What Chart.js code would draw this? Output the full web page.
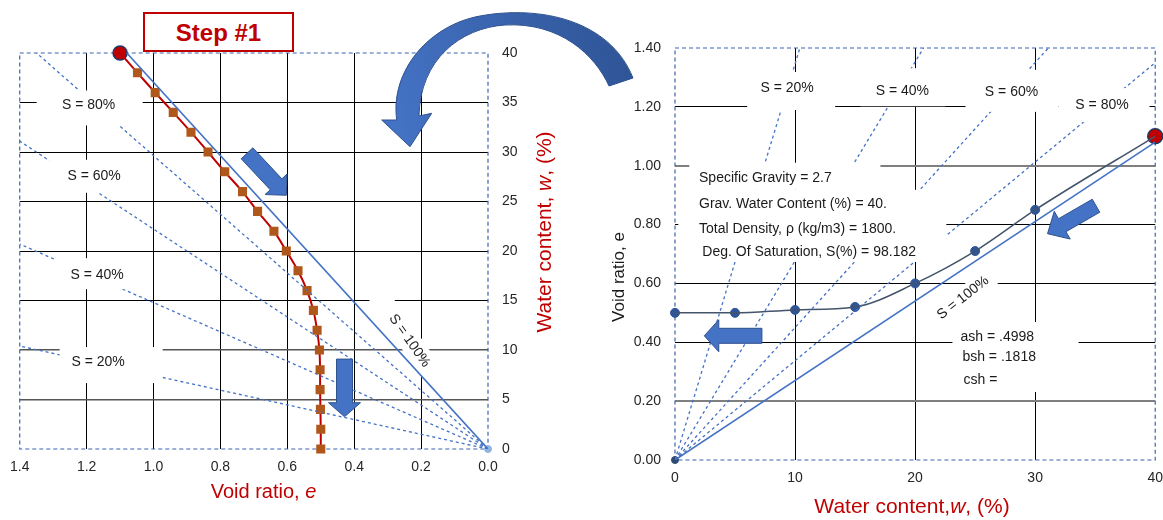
<!doctype html>
<html lang="en">
<head>
<meta charset="utf-8">
<title>Void ratio vs water content</title>
<script src="https://cdn.jsdelivr.net/npm/chart.js@4.4.0/dist/chart.umd.min.js"></script>
<style>
  body { margin: 0; background: #fff; }
  #wrap { position: relative; width: 1163px; height: 520px; overflow: hidden; }
  #left { position: absolute; left: 0; top: 0; }
  #right { position: absolute; left: 590px; top: 0; }
  #step {
    position: absolute; left: 143px; top: 12px; width: 147px; height: 36px;
    border: 2.5px solid #c00000; background: #fff; color: #c00000;
    font: bold 24px "Liberation Sans", Arial, sans-serif; text-align: center; line-height: 37px;
  }
  #curl { position: absolute; left: 0; top: 0; pointer-events: none; }
</style>
</head>
<body>
<div id="wrap">
  <canvas id="left" width="590" height="520"></canvas>
  <canvas id="right" width="583" height="520"></canvas>
  <div id="step">Step #1</div>
  <svg id="curl" width="1163" height="520">
    <defs>
      <linearGradient id="g" gradientUnits="userSpaceOnUse" x1="633" y1="78" x2="400" y2="130">
        <stop offset="0" stop-color="#2f5597"/>
        <stop offset="1" stop-color="#4472c4"/>
      </linearGradient>
    </defs>
    <path d="M396.7 120 C390 70 430 25 480 16 C540 5 610 20 633 78 L609 86 C595 55 560 22 505 25 C460 28 420 60 419 116 L431.7 113.3 L410 146.7 L381.7 120 Z"
          fill="url(#g)" stroke="#2f528f" stroke-width="1"/>
  </svg>
</div>

<script>
const FONT = '"Liberation Sans", Arial, sans-serif';

// ---- left chart: void ratio (x, reversed) against water content (y) ----
const leftWater = [40, 38, 36, 34, 32, 30, 28, 26, 24, 22, 20, 18, 16, 14, 12, 10, 8, 6, 4, 2, 0];
const leftVoid  = [1.10, 1.048, 0.995, 0.941, 0.888, 0.837, 0.787, 0.734, 0.689, 0.640, 0.603,
                   0.568, 0.541, 0.522, 0.511, 0.504, 0.502, 0.502, 0.501, 0.500, 0.500];

// saturation lines, all starting at the origin; end points
const satNames = ['S = 20%', 'S = 40%', 'S = 60%', 'S = 80%', 'S = 100%'];
const satEndVoid  = [1.40, 1.40, 1.40, 1.35, 1.08];
const satEndWater = [10.4, 20.7, 31.1, 40, 40];

// ---- right chart: water content (x) against void ratio (y) ----
const rightWater = [0, 5, 10, 15, 20, 25, 30];
const rightVoid  = [0.50, 0.50, 0.51, 0.52, 0.60, 0.71, 0.85];
const startWater = 40;
const startVoid  = 1.10;

const soilProps = ['Specific Gravity = 2.7', 'Grav. Water Content (%) = 40.',
                   'Total Density, \u03c1 (kg/m3) = 1800.', 'Deg. Of Saturation, S(%) = 98.182'];
const fitParams = ['ash = .4998', 'bsh = .1818', 'csh ='];

const BLUE = '#4472c4';

function near(a, b) { return Math.abs(a - b) < 1e-6; }

function px(chart, x, y) {
  return [chart.scales.x.getPixelForValue(x), chart.scales.y.getPixelForValue(y)];
}

function blockArrow(ctx, a, b, sw, hw, hl) {
  const dx = b[0] - a[0], dy = b[1] - a[1], L = Math.hypot(dx, dy);
  const ux = dx / L, uy = dy / L, nx = -uy, ny = ux;
  const bx = b[0] - ux * hl, by = b[1] - uy * hl;
  ctx.beginPath();
  ctx.moveTo(a[0] + nx * sw / 2, a[1] + ny * sw / 2);
  ctx.lineTo(bx + nx * sw / 2, by + ny * sw / 2);
  ctx.lineTo(bx + nx * hw / 2, by + ny * hw / 2);
  ctx.lineTo(b[0], b[1]);
  ctx.lineTo(bx - nx * hw / 2, by - ny * hw / 2);
  ctx.lineTo(bx - nx * sw / 2, by - ny * sw / 2);
  ctx.lineTo(a[0] - nx * sw / 2, a[1] - ny * sw / 2);
  ctx.closePath();
  ctx.fillStyle = BLUE;
  ctx.fill();
  ctx.strokeStyle = '#2f528f';
  ctx.lineWidth = 1;
  ctx.stroke();
}

function richText(ctx, parts, cx, cy, size, color, rot) {
  ctx.save();
  ctx.translate(cx, cy);
  ctx.rotate(rot * Math.PI / 180);
  ctx.fillStyle = color;
  ctx.textBaseline = 'middle';
  ctx.textAlign = 'left';
  let total = 0;
  parts.forEach(p => {
    ctx.font = (p.i ? 'italic ' : '') + size + 'px ' + FONT;
    p.w = ctx.measureText(p.t).width;
    total += p.w;
  });
  let x = -total / 2;
  parts.forEach(p => {
    ctx.font = (p.i ? 'italic ' : '') + size + 'px ' + FONT;
    ctx.fillText(p.t, x, 0);
    x += p.w;
  });
  ctx.restore();
}

function labelBox(chart, l) {
  const [x, y] = px(chart, l.x, l.y);
  const [dx, dy, w, h] = l.box;
  const ctx = chart.ctx;
  ctx.save();
  ctx.translate(x, y);
  ctx.rotate((l.rot || 0) * Math.PI / 180);
  ctx.fillStyle = '#fff';
  ctx.fillRect(dx - w / 2, dy - h / 2, w, h);
  ctx.restore();
}

// dashed plot frame, white label boxes, labels, arrows, axis titles
const decor = {
  id: 'decor',
  beforeDatasetsDraw(chart, args, o) {
    const a = chart.chartArea, ctx = chart.ctx;
    ctx.save();
    ctx.setLineDash([4, 3]);
    ctx.strokeStyle = '#3b64b0';
    ctx.lineWidth = 1.2;
    ctx.strokeRect(a.left, a.top, a.right - a.left, a.bottom - a.top);
    ctx.restore();
    // boxes that only hide grid lines
    (o.labels || []).filter(l => l.box && l.under).forEach(l => labelBox(chart, l));
  },
  afterDatasetsDraw(chart, args, o) {
    const ctx = chart.ctx;
    ctx.save();
    ctx.fillStyle = '#fff';
    (o.panels || []).forEach(p => {
      const [x1, y1] = px(chart, p.x1, p.y1), [x2, y2] = px(chart, p.x2, p.y2);
      ctx.fillRect(Math.min(x1, x2), Math.min(y1, y2), Math.abs(x2 - x1), Math.abs(y2 - y1));
    });
    (o.labels || []).filter(l => l.box && !l.under).forEach(l => labelBox(chart, l));
    (o.labels || []).forEach(l => {
      const [x, y] = px(chart, l.x, l.y);
      ctx.save();
      ctx.translate(x, y);
      ctx.rotate((l.rot || 0) * Math.PI / 180);
      ctx.fillStyle = '#1a1a1a';
      ctx.font = '14px ' + FONT;
      ctx.textAlign = l.align || 'center';
      ctx.textBaseline = 'middle';
      ctx.fillText(l.text, 0, 0);
      ctx.restore();
    });
    (o.arrows || []).forEach(ar => blockArrow(ctx, px(chart, ar.from[0], ar.from[1]), px(chart, ar.to[0], ar.to[1]), ar.sw, ar.hw, ar.hl));
    ctx.restore();
  },
  afterDraw(chart, args, o) {
    (o.titles || []).forEach(t => richText(chart.ctx, t.parts, t.x, t.y, t.size, t.color, t.rot || 0));
  }
};

const tickFont = { size: 14, family: FONT };

function satLines(xs, ys) {
  return satNames.map((name, i) => ({
    label: name,
    data: [{ x: 0, y: 0 }, { x: xs[i], y: ys[i] }],
    showLine: true,
    pointRadius: 0,
    borderColor: BLUE,
    borderWidth: i === 4 ? 1.6 : 1.3,
    borderDash: i === 4 ? [] : [3, 3]
  }));
}

// ---------------- left chart ----------------
new Chart(document.getElementById('left'), {
  type: 'scatter',
  data: {
    datasets: [
      ...satLines(satEndVoid, satEndWater),
      {
        label: 'Shrinkage path',
        data: leftVoid.map((e, i) => ({ x: e, y: leftWater[i] })),
        showLine: true,
        tension: 0.25,
        borderColor: '#c00000',
        borderWidth: 2,
        pointStyle: 'rect',
        pointRadius: leftWater.map((w, i) => i === 0 ? 0 : 5),
        pointBackgroundColor: '#b0571c',
        pointBorderColor: '#b0571c',
        clip: false
      },
      {
        label: 'Start',
        data: [{ x: startVoid, y: startWater }],
        pointRadius: 7,
        pointBackgroundColor: '#c00000',
        pointBorderColor: '#203864',
        pointBorderWidth: 1.5,
        clip: false
      },
      {
        label: 'Origin',
        data: [{ x: 0, y: 0 }],
        pointRadius: 3.5,
        pointBackgroundColor: '#8fb4e3',
        pointBorderColor: '#8fb4e3',
        clip: false
      }
    ]
  },
  options: {
    responsive: false,
    animation: false,
    layout: { padding: { left: 19, top: 53, right: 0, bottom: 0 } },
    plugins: {
      legend: { display: false },
      tooltip: { enabled: false },
      decor: {
        labels: [
          { text: 'S = 80%', x: 1.194, y: 34.7, box: [1, 2.5, 106, 35] },
          { text: 'S = 60%', x: 1.1775, y: 27.55, box: [0, 0, 90, 33] },
          { text: 'S = 40%', x: 1.1685, y: 17.56, box: [-4.5, -1.5, 76, 31] },
          { text: 'S = 20%', x: 1.1656, y: 8.78, box: [13, 3, 103, 36] },
          { text: 'S = 100%', x: 0.2346, y: 10.93, rot: 55, box: [-8, 0, 96, 22], under: true }
        ],
        arrows: [
          { from: [0.7205, 29.87], to: [0.603, 25.63], sw: 16, hw: 30, hl: 15 },
          { from: [0.429, 9.08], to: [0.429, 3.26], sw: 16, hw: 32, hl: 14 }
        ],
        titles: [
          { parts: [{ t: 'Void ratio, ' }, { t: 'e', i: true }], x: 263.5, y: 492, size: 20, color: '#c00000' },
          { parts: [{ t: 'Water content, ' }, { t: 'w', i: true }, { t: ', (%)' }], x: 545, y: 232, size: 21, color: '#c00000', rot: -90 }
        ]
      }
    },
    scales: {
      x: {
        type: 'linear', reverse: true, min: 0, max: 1.4,
        ticks: { stepSize: 0.2, padding: 10, font: tickFont, color: '#262626', callback: v => v.toFixed(1) },
        grid: {
          drawTicks: false,
          color: c => (near(c.tick.value, 0) || near(c.tick.value, 1.4)) ? 'rgba(0,0,0,0)' : '#000'
        },
        border: { display: false },
        afterFit: s => { s.height = 71; }
      },
      y: {
        position: 'right', min: 0, max: 40,
        ticks: { stepSize: 5, padding: 14, font: tickFont, color: '#262626' },
        grid: {
          drawTicks: false,
          color: c => (near(c.tick.value, 0) || near(c.tick.value, 40)) ? 'rgba(0,0,0,0)'
                    : (near(c.tick.value, 5) || near(c.tick.value, 10)) ? '#555' : '#000',
          lineWidth: c => (near(c.tick.value, 5) || near(c.tick.value, 10)) ? 1.6 : 1
        },
        border: { display: false },
        afterFit: s => { s.width = 102; }
      }
    }
  },
  plugins: [decor]
});

// ---------------- right chart ----------------
new Chart(document.getElementById('right'), {
  type: 'scatter',
  data: {
    datasets: [
      ...satLines(satEndWater, satEndVoid),
      {
        label: 'Fitted curve',
        data: rightWater.map((w, i) => ({ x: w, y: rightVoid[i] })).concat([{ x: startWater, y: startVoid }]),
        showLine: true,
        cubicInterpolationMode: 'monotone',
        borderColor: '#44546a',
        borderWidth: 1.5,
        pointRadius: 0
      },
      {
        label: 'Measured',
        data: rightWater.map((w, i) => ({ x: w, y: rightVoid[i] })),
        pointRadius: 4.5,
        pointBackgroundColor: '#2f5597',
        pointBorderColor: '#2f5597',
        clip: false
      },
      {
        label: 'Start',
        data: [{ x: startWater, y: startVoid }],
        pointRadius: 7.5,
        pointBackgroundColor: '#c00000',
        pointBorderColor: '#203864',
        pointBorderWidth: 1.5,
        clip: false
      },
      {
        label: 'Origin',
        data: [{ x: 0, y: 0 }],
        pointRadius: 3.5,
        pointBackgroundColor: '#2f4a75',
        pointBorderColor: '#2f4a75',
        clip: false
      }
    ]
  },
  options: {
    responsive: false,
    animation: false,
    layout: { padding: { left: 0, top: 48, right: 8, bottom: 0 } },
    plugins: {
      legend: { display: false },
      tooltip: { enabled: false },
      decor: {
        panels: [
          { x1: 1.19, x2: 17.11, y1: 1.010, y2: 0.918 },
          { x1: 0.28, x2: 22.6, y1: 0.918, y2: 0.673 },
          { x1: 23.11, x2: 33.61, y1: 0.469, y2: 0.231 }
        ],
        labels: [
          { text: 'S = 20%', x: 9.34, y: 1.264, box: [4, 3, 88, 38] },
          { text: 'S = 40%', x: 18.94, y: 1.253, box: [0.5, -4, 85, 38] },
          { text: 'S = 60%', x: 28.03, y: 1.251, box: [0.5, -1, 93, 42] },
          { text: 'S = 80%', x: 35.57, y: 1.206, box: [2, 0, 91, 34] },
          { text: 'S = 100%', x: 23.99, y: 0.551, rot: -38, box: [0, 0, 74, 20], under: true },
          { text: soilProps[0], x: 2.0, y: 0.959, align: 'left' },
          { text: soilProps[1], x: 2.0, y: 0.871, align: 'left' },
          { text: soilProps[2], x: 2.0, y: 0.786, align: 'left' },
          { text: soilProps[3], x: 2.28, y: 0.707, align: 'left' },
          { text: fitParams[0], x: 23.78, y: 0.418, align: 'left' },
          { text: fitParams[1], x: 23.94, y: 0.350, align: 'left' },
          { text: fitParams[2], x: 24.03, y: 0.272, align: 'left' }
        ],
        arrows: [
          { from: [35.07, 0.864], to: [31.03, 0.769], sw: 15, hw: 32, hl: 17 },
          { from: [7.24, 0.422], to: [2.44, 0.422], sw: 15, hw: 32, hl: 14.5 }
        ],
        titles: [
          { parts: [{ t: 'Water content,' }, { t: 'w', i: true }, { t: ', (%)' }], x: 322, y: 507, size: 21, color: '#c00000' },
          { parts: [{ t: 'Void ratio, e' }], x: 29.5, y: 277, size: 17, color: '#1a1a1a', rot: -90 }
        ]
      }
    },
    scales: {
      x: {
        type: 'linear', min: 0, max: 40,
        ticks: { stepSize: 10, padding: 10, font: tickFont, color: '#262626' },
        grid: {
          drawTicks: false,
          color: c => (near(c.tick.value, 0) || near(c.tick.value, 40)) ? 'rgba(0,0,0,0)' : '#000'
        },
        border: { display: false },
        afterFit: s => { s.height = 60; }
      },
      y: {
        min: 0, max: 1.4,
        ticks: { stepSize: 0.2, padding: 14, font: tickFont, color: '#262626', callback: v => v.toFixed(2) },
        grid: {
          drawTicks: false,
          color: c => (near(c.tick.value, 0) || near(c.tick.value, 1.4)) ? 'rgba(0,0,0,0)'
                    : (near(c.tick.value, 0.2) || near(c.tick.value, 1.0)) ? '#7f7f7f' : '#000',
          lineWidth: c => (near(c.tick.value, 0.2) || near(c.tick.value, 1.0)) ? 2 : 1
        },
        border: { display: false },
        afterFit: s => { s.width = 85; }
      }
    }
  },
  plugins: [decor]
});
</script>
</body>
</html>
